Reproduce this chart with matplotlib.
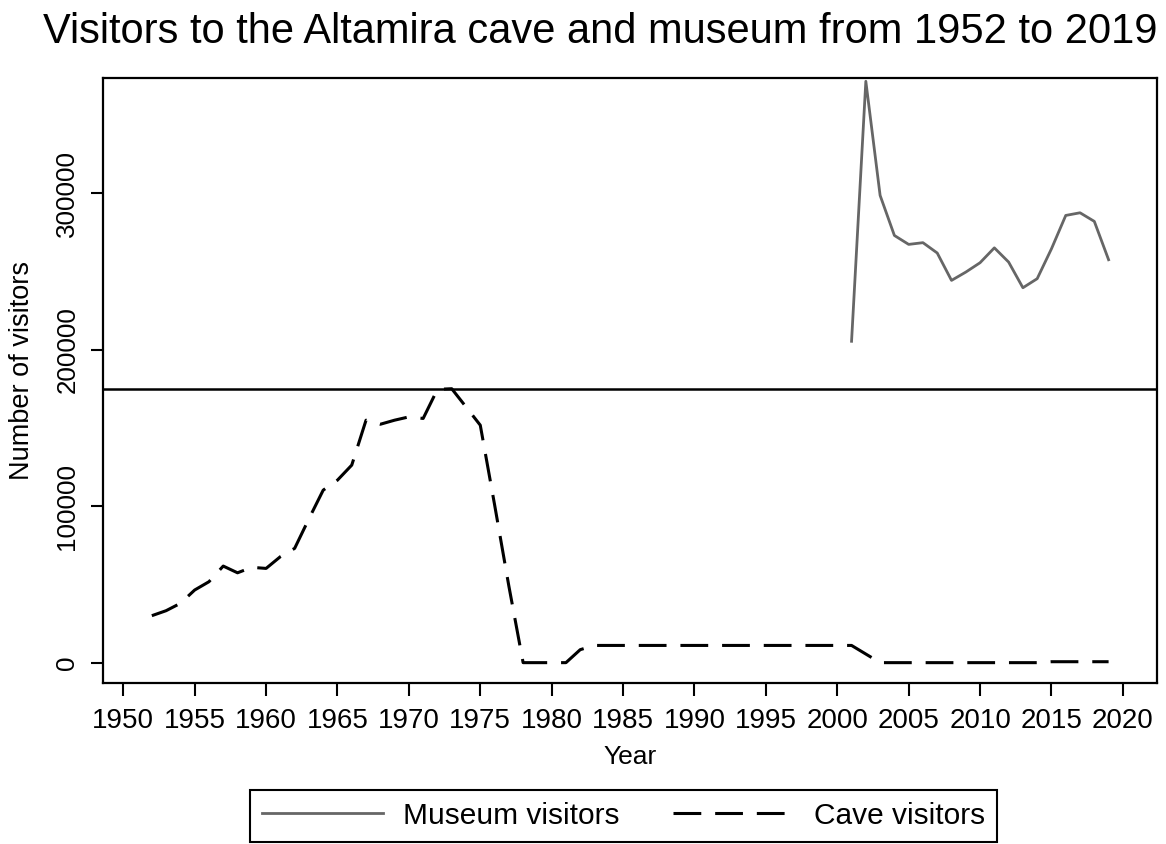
import numpy as np
import matplotlib
matplotlib.use("Agg")
import matplotlib.pyplot as plt

plt.rcParams['font.family'] = ['Liberation Sans', 'DejaVu Sans']
plt.rcParams['lines.scale_dashes'] = False

# Cave visitors 1952-2019
cave_years = list(range(1952, 2020))
cave_visitors = [
    30000, 33200, 37900, 46400, 51700, 61700, 57400, 60900, 60200, 67700,   # 1952-1961
    73000, 91900, 110200, 116600, 126200, 154900, 152300, 154900, 157000, 156000,  # 1962-1971
    174600, 175000, 163400, 151700, 101000, 49000, 0, 0, 0, 0,  # 1972-1981
    8300, 11000, 11000, 11000, 11000, 11000, 11000, 11000, 11000, 11000,  # 1982-1991
    11000, 11000, 11000, 11000, 11000, 11000, 11000, 11000, 11000, 11000,  # 1992-2001
    5500, 0, 0, 0, 0, 0, 0, 0, 0, 0,  # 2002-2011
    0, 0, 0, 600, 600, 600, 600, 600,  # 2012-2019
]

# Museum visitors 2001-2019
museum_years = list(range(2001, 2020))
museum_visitors = [
    205300, 371400, 298500, 272900, 267200, 268300, 261700, 244200, 249500, 255500,
    265000, 255900, 239500, 245300, 264400, 285700, 287400, 281900, 257400,
]

ref_level = 175000
xticks = list(range(1950, 2021, 5))
yticks = [0, 100000, 200000, 300000]

fig = plt.figure(figsize=(11.66, 8.44), dpi=100)
ax = fig.add_axes([103 / 1166, 1 - 683 / 844, (1157 - 103) / 1166, (683 - 78) / 844])

ax.plot(museum_years, museum_visitors, color='#666666', lw=2.0, label='Museum visitors')
ax.plot(cave_years, cave_visitors, color='black', lw=2.2, dashes=(20, 10),
        label='Cave visitors')
ax.axhline(ref_level, color='black', lw=1.8)

ax.set_xlim(1948.58, 2022.39)
ax.set_ylim(-13000, 373500)
ax.set_xticks(xticks)
ax.set_yticks(yticks)
ax.set_yticklabels([str(v) for v in yticks], rotation=90, va='center')
ax.tick_params(axis='both', direction='out', length=9, width=1.5)
ax.tick_params(axis='x', labelsize=20, pad=9)
ax.tick_params(axis='y', labelsize=18.7, pad=8)

for s in ax.spines.values():
    s.set_linewidth(1.6)

ax.set_xlabel('Year', fontsize=19, labelpad=8)
ax.set_ylabel('Number of visitors', fontsize=19.5)
ax.yaxis.set_label_coords(-0.0645, 0.516)

fig.text(600 / 1166, 1 - 43 / 844, 'Visitors to the Altamira cave and museum from 1952 to 2019',
         fontsize=30, ha='center', va='baseline')

leg = fig.legend(loc='upper left', bbox_to_anchor=(250 / 1166, 1 - 790 / 844),
                 ncol=2, fontsize=21.5, handlelength=4.05, handletextpad=0.67,
                 columnspacing=1.8, borderaxespad=0, fancybox=False,
                 edgecolor='black', framealpha=1, borderpad=0.4)
leg.get_frame().set_linewidth(1.5)

fig.savefig('out.png', dpi=100)
